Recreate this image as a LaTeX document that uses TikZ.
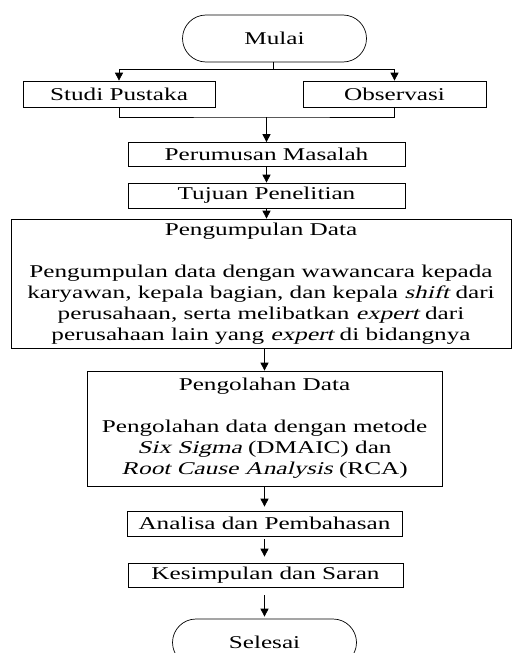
\documentclass[tikz,border=0pt]{standalone}
\usepackage{fontspec}
\setmainfont{Liberation Serif}
\newfontfamily\miringfont{Liberation Serif}[FakeSlant=0.2]
\usetikzlibrary{arrows.meta,shapes.misc}
\newcommand{\wide}[1]{\scalebox{1.4}[1]{#1}}
\newcommand{\miring}[1]{{\miringfont #1}}

\begin{document}
\begin{tikzpicture}[x=1pt,y=-1pt,line width=0.7pt,
    font=\fontsize{18}{21}\selectfont,
    box/.style={draw,rectangle,inner sep=0pt,align=center},
    term/.style={draw,rounded rectangle,inner sep=0pt,minimum width=184pt,minimum height=47pt},
    arr/.style={-{Triangle[length=8pt,width=8pt]}}]
      \useasboundingbox (0,0) rectangle (512,653);

      \node[term] (mulai) at (274.5,38.5) {\wide{Mulai}};
      \node[box,minimum width=192pt,minimum height=26pt] (studi) at (119,94) {\wide{Studi Pustaka}};
      \node[box,minimum width=183pt,minimum height=26pt] (obs) at (394.5,94) {\wide{Observasi}};
      \node[box,minimum width=277pt,minimum height=24pt] (rumus) at (266.5,154.5) {\wide{Perumusan Masalah}};
      \node[box,minimum width=277pt,minimum height=25pt] (tujuan) at (266.5,195.5) {\wide{Tujuan Penelitian}};
      \node[box,minimum width=500pt,minimum height=129pt] (kumpul) at (261,283.5)
        {\wide{Pengumpulan Data}\\ \mbox{}\\
         \wide{Pengumpulan data dengan wawancara kepada}\\
         \wide{karyawan, kepala bagian, dan kepala \miring{shift} dari}\\
         \wide{perusahaan, serta melibatkan \miring{expert} dari}\\
         \wide{perusahaan lain yang \miring{expert} di bidangnya}};
      \node[box,minimum width=355pt,minimum height=115pt] (olah) at (264.5,428.5)
        {\wide{Pengolahan Data}\\[21pt]
         \wide{Pengolahan data dengan metode}\\
         \wide{\miring{Six Sigma} (DMAIC) dan}\\
         \wide{\miring{Root Cause Analysis} (RCA)}};
      \node[box,minimum width=275pt,minimum height=25pt] (analisa) at (264.5,523.5) {\wide{Analisa dan Pembahasan}};
      \node[box,minimum width=275pt,minimum height=24pt] (simpul) at (265.5,575) {\wide{Kesimpulan dan Saran}};
      \node[term] (selesai) at (264.5,642.5) {\wide{Selesai}};

      % cabang
      \coordinate (split) at (273,69);
      \coordinate (join) at (266.5,117);
      \draw (mulai.south -| split) -- (split);
      \draw[arr] (split) -| (studi.north);
      \draw[arr] (split) -| (obs.north);
      \draw (studi.south) |- (join) -| (obs.south);

      \draw[arr] (join) -- (rumus);
      \draw[arr] (rumus) -- (tujuan);
      \draw[arr] (tujuan.south) -- (tujuan.south |- kumpul.north);
      \draw[arr] (kumpul.south -| olah.north) -- (olah.north);
      \draw[arr,shorten >=4pt] (olah) -- (analisa);
      \draw[arr,shorten <=3pt,shorten >=6pt] (analisa.south) -- (analisa.south |- simpul.north);
      \draw[arr,shorten <=8pt,shorten >=2pt] (simpul.south -| selesai.north) -- (selesai.north);

\end{tikzpicture}
\end{document}
